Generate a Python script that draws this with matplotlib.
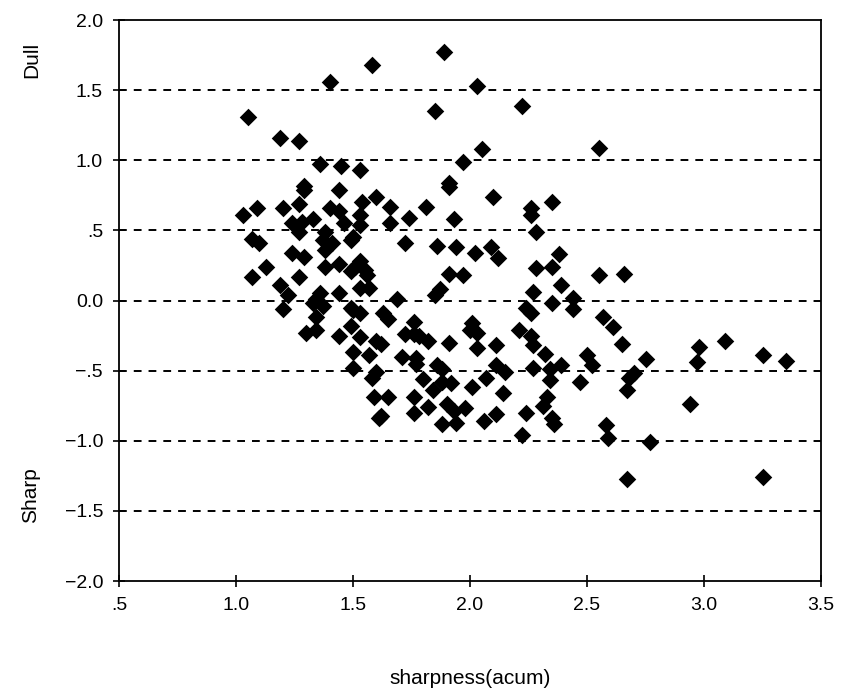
import matplotlib.pyplot as plt
from matplotlib.ticker import FuncFormatter

# sharpness (acum) vs. dull/sharp rating
sharpness = [1.89, 1.58, 1.40, 2.03, 1.85, 2.22, 1.05, 1.19, 1.27, 2.05,
             2.55, 1.97, 1.36, 1.45, 1.53, 1.91, 1.91, 2.10, 1.29, 1.29,
             1.44, 1.60, 2.35, 1.54, 1.66, 1.81, 2.26, 2.26, 1.09, 1.03,
             1.20, 1.27, 1.40, 1.44, 1.53, 1.53, 1.46, 1.74, 1.93, 1.66,
             1.33, 1.28, 1.24, 1.27, 1.38, 1.37, 1.41, 1.49, 1.50, 1.72,
             2.28, 1.07, 1.10, 1.24, 1.29, 1.86, 1.94, 2.02, 2.09, 2.12,
             2.38, 2.28, 2.35, 2.55, 2.66, 1.38, 1.38, 1.44, 1.49, 1.13,
             1.07, 1.27, 1.19, 1.53, 1.55, 1.51, 1.56, 1.91, 1.97, 1.53,
             1.57, 1.87, 1.85, 1.69, 2.39, 2.27, 2.44, 2.35, 2.44, 2.24,
             2.26, 1.22, 1.20, 1.34, 1.37, 1.33, 1.36, 1.44, 1.49, 1.34,
             1.30, 1.34, 1.44, 1.49, 1.50, 1.50, 1.50, 1.53, 1.63, 1.65,
             1.53, 1.60, 1.62, 1.57, 1.60, 1.58, 1.59, 1.65, 1.62, 1.61,
             1.76, 1.72, 1.76, 1.78, 1.82, 1.91, 2.01, 2.00, 2.03, 2.03,
             2.11, 2.21, 2.26, 2.27, 2.32, 1.71, 1.77, 1.77, 1.86, 1.88,
             2.11, 2.15, 2.27, 2.34, 2.39, 2.50, 2.52, 1.80, 1.88, 1.92,
             2.07, 2.34, 2.47, 1.84, 2.01, 2.14, 1.76, 2.33, 2.31, 1.82,
             1.90, 1.93, 1.98, 1.76, 2.11, 2.24, 2.35, 2.36, 1.88, 1.94,
             2.06, 2.22, 2.57, 2.61, 2.65, 2.75, 2.70, 2.68, 2.67, 2.98,
             2.97, 3.09, 3.25, 3.35, 2.94, 2.58, 2.59, 2.77, 2.67, 3.25]

rating = [1.77, 1.68, 1.56, 1.53, 1.35, 1.39, 1.31, 1.16, 1.14, 1.08,
          1.09, 0.99, 0.97, 0.96, 0.93, 0.84, 0.81, 0.74, 0.82, 0.79,
          0.79, 0.74, 0.70, 0.70, 0.67, 0.67, 0.66, 0.61, 0.66, 0.61,
          0.66, 0.69, 0.66, 0.64, 0.61, 0.54, 0.55, 0.59, 0.58, 0.55,
          0.58, 0.56, 0.55, 0.49, 0.49, 0.43, 0.41, 0.43, 0.45, 0.41,
          0.49, 0.44, 0.41, 0.34, 0.31, 0.39, 0.38, 0.34, 0.38, 0.30,
          0.33, 0.23, 0.24, 0.18, 0.19, 0.36, 0.24, 0.26, 0.21, 0.24,
          0.17, 0.17, 0.11, 0.28, 0.22, 0.24, 0.18, 0.19, 0.18, 0.09,
          0.09, 0.08, 0.04, 0.01, 0.11, 0.06, 0.02, -0.02, -0.06, -0.05,
          -0.09, 0.04, -0.06, 0.01, -0.04, -0.02, 0.05, 0.05, -0.05, -0.12,
          -0.23, -0.21, -0.25, -0.18, -0.37, -0.48, -0.07, -0.09, -0.09, -0.13,
          -0.26, -0.29, -0.31, -0.39, -0.51, -0.55, -0.69, -0.69, -0.82, -0.84,
          -0.15, -0.24, -0.24, -0.25, -0.29, -0.30, -0.16, -0.21, -0.23, -0.34,
          -0.32, -0.21, -0.25, -0.32, -0.38, -0.40, -0.41, -0.45, -0.46, -0.49,
          -0.46, -0.51, -0.48, -0.49, -0.46, -0.39, -0.46, -0.56, -0.58, -0.59,
          -0.55, -0.57, -0.58, -0.64, -0.62, -0.66, -0.69, -0.69, -0.75, -0.76,
          -0.74, -0.79, -0.77, -0.80, -0.81, -0.80, -0.84, -0.88, -0.88, -0.87,
          -0.86, -0.96, -0.12, -0.19, -0.31, -0.42, -0.52, -0.55, -0.64, -0.33,
          -0.44, -0.29, -0.39, -0.43, -0.74, -0.89, -0.98, -1.01, -1.27, -1.26]

x_ticks = [0.5, 1.0, 1.5, 2.0, 2.5, 3.0, 3.5]
y_ticks = [-2.0, -1.5, -1.0, -0.5, 0.0, 0.5, 1.0, 1.5, 2.0]

plt.rcParams['font.family'] = ['Liberation Sans', 'DejaVu Sans']

fig = plt.figure(figsize=(8.46, 7.0), dpi=100)
ax = fig.add_axes([0.1407, 0.17, 0.8298, 0.8014])


def fmt(v, pos):
    s = '%.1f' % v
    if s.startswith('0.') and s != '0.0':
        s = s[1:]
    elif s.startswith('-0.'):
        s = '-' + s[2:]
    return s.replace('-', '\u2212')


for yv in y_ticks[1:-1]:
    ax.axhline(yv, color='black', lw=1.4, ls=(0, (4, 3.6)), zorder=1)

ax.scatter(sharpness, rating, marker='D', s=80, color='black', linewidths=0, zorder=3)

ax.set_xlim(0.5, 3.5)
ax.set_ylim(-2.0, 2.0)
ax.set_xticks(x_ticks)
ax.set_yticks(y_ticks)
ax.xaxis.set_major_formatter(FuncFormatter(fmt))
ax.yaxis.set_major_formatter(FuncFormatter(fmt))
ax.tick_params(direction='inout', length=9, width=1.2, labelsize=14, color='black', pad=7)
for sp in ax.spines.values():
    sp.set_linewidth(1.3)

fig.text(0.556, 0.03, 'sharpness(acum)', ha='center', va='center', fontsize=15)
fig.text(0.038, 0.915, 'Dull', rotation=90, ha='center', va='center', fontsize=15)
fig.text(0.036, 0.293, 'Sharp', rotation=90, ha='center', va='center', fontsize=15)

fig.savefig('out.png', dpi=100)
